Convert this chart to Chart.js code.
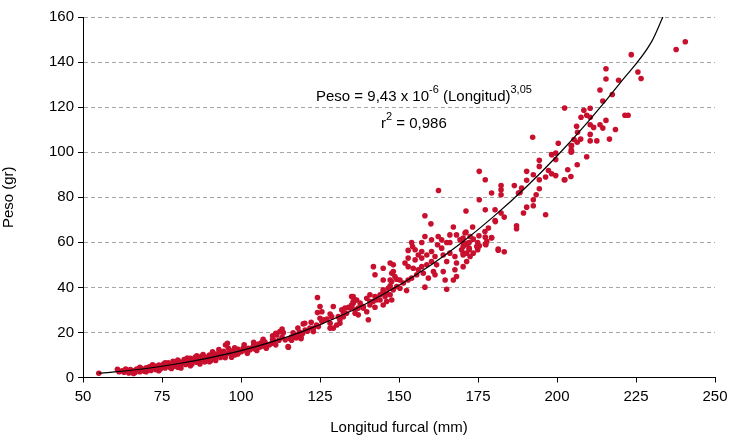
<!DOCTYPE html>
<html>
<head>
<meta charset="utf-8">
<script src="https://cdn.jsdelivr.net/npm/chart.js@4.4.1/dist/chart.umd.min.js"></script>
<style>
html, body { margin: 0; padding: 0; background: #fff; }
</style>
</head>
<body>
<canvas id="myChart" width="733" height="437"></canvas>
<script>
const longitud = [
    55, 60.9, 61.4, 62.4, 63, 64, 64.5, 65, 65.5, 66, 66.5, 67, 67.5, 68, 68.5, 69, 69.5, 70, 70.5, 71,
    71.5, 72, 72.5, 73, 73.5, 74, 74.5, 75, 75.5, 76, 76.5, 77, 77.5, 78, 78.5, 79, 79.5, 80, 80.5, 81,
    81.5, 82, 82.5, 83, 83.5, 84, 84.5, 85, 85.5, 86, 86.5, 87, 87.5, 88, 88.5, 89, 89.5, 90, 90.5, 91,
    91.5, 92, 92.5, 93, 93.5, 94, 94.5, 95, 95.1, 95.7, 96, 96.5, 97, 97.5, 98.1, 98.6, 99.1, 99.5, 100.2, 100.7,
    101.8, 102.3, 102.8, 103, 103.9, 104, 104.5, 105.5, 106, 106.5, 107, 107.5, 108.1, 109, 109.7, 110, 110.5, 111,
    111.3, 112, 112.3, 112.6, 113, 113.4, 114, 114.9, 115, 115.5, 116, 116.5, 117, 117.5, 118, 118.5, 119, 119.5,
    119.7, 120.2, 120.3, 121, 121.8, 122.2, 122.9, 122.9, 123.9, 124.2, 124.2, 124.5, 125, 125, 125.6, 125.6, 126.1, 127.2,
    128.2, 128.2, 128.2, 128.7, 129.2, 129.2, 130.3, 130.8, 131.3, 131.3, 131.9, 132.4, 132.4, 132.9, 133.4, 134, 134.5, 135,
    135, 135.5, 135, 135.5, 135.5, 136.1, 136.1, 136.1, 136.6, 137.1, 137.1, 137.7, 138.7, 138.7, 139.8, 139.8, 140.3, 140.8,
    140.8, 140.8, 141.8, 141.9, 142.4, 142.4, 142.4, 142.9, 142.9, 144, 144, 145, 145, 145, 145, 145, 145.6, 146.1,
    146.1, 146.6, 147.2, 147.2, 147.2, 147.2, 147.7, 147.7, 147.7, 148.2, 148.2, 148.2, 148.7, 149.3, 149.3, 150.3, 150.3, 151.4,
    151.9, 152.4, 152.9, 152.9, 152.9, 152.9, 154, 154, 154.3, 154.5, 155.1, 155.1, 155.6, 156.1, 156.1, 157.2, 157.2, 157.2,
    157.2, 157.7, 158.2, 158.2, 158.2, 158.8, 158.8, 159.3, 160.1, 160.3, 160.3, 160.3, 160.9, 161.4, 161.4, 161.9, 162.2, 162.4,
    162.5, 163.5, 163.5, 164, 164, 164.6, 165.1, 165.1, 165.1, 166.1, 166.1, 166.1, 167.2, 167.2, 167.7, 167.7, 168.2, 168.2,
    168.2, 169.3, 169.8, 170.3, 170.3, 170.3, 170.3, 170.3, 170.3, 170.9, 171.2, 171.2, 171.4, 171.4, 171.4, 171.4, 172.2, 172.2,
    172.2, 172.5, 172.5, 173.3, 173.5, 173.5, 174.6, 174.9, 174.9, 175.3, 175.4, 175.4, 175.4, 177.2, 177.3, 177.3, 177.3, 177.3,
    177.5, 177.8, 178.3, 179.3, 179.3, 179.3, 180.4, 180.4, 180.5, 181.4, 181.4, 182.3, 182.3, 182.3, 182.3, 183.3, 183.3, 186.5,
    187.2, 187.2, 187.8, 188.3, 188.8, 189.4, 190.4, 190.4, 190.4, 192.3, 192.5, 192.5, 192.5, 193.4, 194.4, 194.4, 194.4, 194.4,
    196.4, 196.4, 197.3, 198.3, 198.3, 199.6, 199.6, 199.6, 200.4, 202.3, 202.4, 202.5, 203.4, 204.4, 204.5, 204.5, 204.5, 204.6,
    204.6, 205.4, 206.2, 206.4, 206.4, 206.5, 207.6, 207.5, 208.5, 209.4, 209.4, 210.5, 210.5, 210.5, 210.5, 210.5, 211.6, 212.6,
    213.6, 213.6, 214.5, 214.5, 215.5, 215.5, 215.5, 216.6, 217.5, 218.5, 219.5, 221.5, 222.5, 223.5, 225.6, 226.6, 237.7, 240.6,
    63.5, 66, 68, 70, 72, 74, 76, 78, 80, 81, 83, 84, 86, 87, 88, 90, 91, 92, 93, 95,
    96, 97, 98, 99, 101, 102, 104, 105, 107, 108, 110, 111, 113, 116, 118, 119
];
const peso = [
    1.9, 3.6, 2.6, 3.0, 2.3, 3.1, 2.0, 3.5, 2.5, 3.0, 2.2, 3.8, 3.2, 2.6, 4.0, 3.3, 2.8, 4.3, 3.6, 4.8,
    3.1, 4.0, 5.2, 3.5, 4.6, 5.5, 3.8, 4.9, 6.0, 4.2, 5.3, 6.5, 4.5, 5.8, 7.2, 5.0, 6.3, 4.6, 7.0, 5.5,
    6.8, 8.0, 5.8, 7.2, 6.3, 8.5, 6.0, 7.6, 9.0, 6.8, 8.2, 7.3, 9.4, 8.0, 6.9, 9.0, 8.3, 10.0, 7.6, 9.2,
    10.5, 8.5, 9.8, 11.0, 8.9, 10.3, 11.6, 9.5, 14.4, 15.2, 10.8, 12.0, 10.2, 11.5, 10.0, 11.0, 12.5, 11.3, 11.5, 13.0,
    11.8, 13.0, 12.2, 12.8, 13.7, 14.2, 12.5, 14.9, 13.5, 15.5, 14.0, 15.8, 14.9, 14.5, 15.2, 17.0, 16.3, 19.6,
    18.9, 16.5, 20.4, 20.4, 17.8, 19.9, 16.7, 13.7, 13.4, 17.2, 18.0, 19.8, 19.0, 17.5, 18.5, 20.2, 18.1, 19.5,
    23.8, 24.1, 21.1, 20.5, 21.9, 24.5, 20.4, 21.9, 23.3, 35.5, 28.8, 22.6, 31.5, 26.3, 29.2, 24.8, 25.6, 25.9,
    28.2, 24.1, 21.9, 27.0, 31.5, 21.9, 23.3, 27.0, 25.6, 24.1, 30.0, 28.5, 27.0, 30.8, 28.5, 31.2, 30.8, 35.9,
    32.2, 33.0, 31.5, 35.9, 33.7, 34.4, 30.0, 28.5, 34.4, 30.8, 27.8, 33.0, 30.8, 31.5, 35.2, 29.2, 25.6, 36.7,
    33.7, 32.2, 33.7, 49.2, 45.6, 35.9, 31.2, 34.4, 35.2, 36.7, 34.4, 43.3, 48.5, 38.9, 38.1, 32.2, 35.9, 37.4,
    33.7, 39.6, 50.8, 43.3, 40.7, 36.7, 46.3, 42.6, 34.4, 50.0, 47.0, 38.9, 44.8, 40.4, 43.6, 43.3, 39.6, 41.9,
    50.8, 38.6, 56.4, 53.0, 49.2, 43.3, 59.9, 44.1, 58.1, 48.5, 56.7, 52.2, 45.6, 54.4, 47.8, 59.9, 55.9, 53.0,
    49.2, 46.3, 71.8, 62.6, 40.1, 54.4, 50.0, 44.1, 68.2, 61.1, 55.9, 51.5, 47.0, 53.7, 45.6, 50.0, 58.9, 62.6,
    83.0, 61.1, 57.4, 54.4, 47.0, 43.3, 59.9, 51.5, 39.2, 63.3, 59.9, 55.2, 66.8, 43.3, 53.7, 47.8, 63.3, 50.8,
    44.8, 61.1, 56.7, 59.9, 54.4, 49.2, 61.9, 58.1, 55.2, 64.1, 73.9, 64.5, 58.9, 51.5, 59.6, 55.2, 59.9, 57.4,
    56.7, 62.6, 53.7, 66.8, 61.4, 55.2, 58.1, 59.9, 56.7, 62.9, 91.5, 78.9, 58.4, 64.8, 87.8, 74.4, 62.3, 59.2,
    58.9, 60.4, 66.3, 81.9, 61.9, 62.1, 74.4, 69.7, 69.2, 57.0, 56.5, 85.2, 83.3, 81.1, 73.0, 71.2, 55.8, 85.2,
    67.3, 66.0, 81.9, 82.1, 84.1, 73.0, 91.5, 87.5, 75.6, 106.6, 90.0, 78.9, 76.2, 81.1, 96.4, 93.7, 87.8, 83.8,
    89.0, 72.2, 91.9, 98.9, 90.4, 99.6, 96.7, 89.6, 104.0, 87.8, 119.6, 87.8, 92.2, 89.2, 103.0, 101.0, 100.0, 102.9,
    100.4, 105.6, 111.5, 104.4, 94.4, 108.8, 115.5, 105.8, 118.6, 116.4, 98.0, 119.5, 115.5, 112.2, 107.9, 105.0, 111.0, 105.0,
    127.6, 112.2, 122.7, 110.7, 137.0, 132.5, 114.1, 105.8, 125.6, 110.1, 131.9, 116.4, 116.4, 143.3, 135.6, 132.7, 145.6, 149.0,
    3.8, 1.8, 4.5, 2.6, 5.6, 3.0, 6.5, 4.0, 7.8, 4.2, 8.6, 5.2, 9.6, 6.0, 10.2, 7.0, 11.4, 7.6, 12.4, 8.8,
    13.0, 9.0, 13.2, 10.4, 14.5, 10.8, 15.6, 12.0, 17.0, 13.0, 18.5, 14.5, 21.5, 16.5, 22.0, 17.2
];

// Fitted power curve as drawn on the figure
const curvaLongitud = [55, 60, 70, 80, 90, 100, 110, 120, 130, 140, 150, 160, 170, 180, 190, 200, 210, 220, 230, 233.5];
const curvaPeso = [1.9, 2.5, 4.0, 6.1, 8.7, 11.9, 15.9, 20.7, 26.4, 33.1, 40.9, 49.8, 60.0, 71.5, 84.2, 98.3, 113.8, 130.8, 149.2, 160];

const xTicks = [50, 75, 100, 125, 150, 175, 200, 225, 250];
const yTicks = [0, 20, 40, 60, 80, 100, 120, 140, 160];

const FONT = '"Liberation Sans", Arial, sans-serif';

// draws the equation and r2 with superscripts
const equationPlugin = {
    id: 'equation',
    afterDatasetsDraw(chart) {
        const ctx = chart.ctx;
        ctx.save();
        ctx.fillStyle = '#000';
        ctx.textBaseline = 'alphabetic';
        ctx.textAlign = 'left';
        const parts = [
            ['Peso = 9,43 x 10', false],
            ['-6', true],
            [' (Longitud)', false],
            ['3,05', true]
        ];
        let x = 316;
        const y = 101;
        parts.forEach(([txt, sup]) => {
            ctx.font = (sup ? '11px ' : '15px ') + FONT;
            ctx.fillText(txt, x, sup ? y - 8 : y);
            x += ctx.measureText(txt).width;
        });
        let x2 = 381;
        const y2 = 128;
        [['r', false], ['2', true], [' = 0,986', false]].forEach(([txt, sup]) => {
            ctx.font = (sup ? '11px ' : '15px ') + FONT;
            ctx.fillText(txt, x2, sup ? y2 - 8 : y2);
            x2 += ctx.measureText(txt).width;
        });
        ctx.restore();
    }
};

const ctx = document.getElementById('myChart').getContext('2d');
const chart = new Chart(ctx, {
    type: 'scatter',
    data: {
        datasets: [
            {
                label: 'Observado',
                data: longitud.map((l, i) => ({ x: l, y: peso[i] })),
                backgroundColor: '#c8102e',
                borderWidth: 0,
                pointRadius: 2.8,
                order: 2
            },
            {
                label: 'Ajuste',
                type: 'line',
                data: curvaLongitud.map((l, i) => ({ x: l, y: curvaPeso[i] })),
                borderColor: '#000',
                borderWidth: 1.2,
                pointRadius: 0,
                fill: false,
                cubicInterpolationMode: 'monotone',
                order: 1
            }
        ]
    },
    options: {
        responsive: false,
        animation: false,
        devicePixelRatio: 1,
        layout: { padding: { top: 17, right: 18, left: 0, bottom: 0 } },
        plugins: {
            legend: { display: false },
            tooltip: { enabled: false }
        },
        scales: {
            x: {
                type: 'linear',
                min: 50,
                max: 250,
                afterBuildTicks: axis => { axis.ticks = xTicks.map(v => ({ value: v })); },
                afterFit: axis => { axis.height = 59.5; },
                border: { color: '#000', width: 1 },
                grid: { drawOnChartArea: false, tickLength: 5, color: '#000' },
                ticks: { color: '#000', font: { family: FONT, size: 15 }, padding: 5, maxRotation: 0 },
                title: {
                    display: true,
                    text: 'Longitud furcal (mm)',
                    color: '#000',
                    font: { family: FONT, size: 15 },
                    padding: { top: 4, bottom: 0 }
                }
            },
            y: {
                min: 0,
                max: 160,
                afterBuildTicks: axis => { axis.ticks = yTicks.map(v => ({ value: v })); },
                afterFit: axis => { axis.width = 83; },
                border: { color: '#000', width: 1, dash: [4, 3] },
                grid: {
                    color: '#a6a6a6',
                    tickLength: 5,
                    tickColor: '#000',
                    tickBorderDash: []
                },
                ticks: { color: '#000', font: { family: FONT, size: 15 }, padding: 4 },
                title: {
                    display: true,
                    text: 'Peso (gr)',
                    color: '#000',
                    font: { family: FONT, size: 15 },
                    padding: { top: 0, bottom: 12 }
                }
            }
        }
    },
    plugins: [equationPlugin]
});
</script>
</body>
</html>
